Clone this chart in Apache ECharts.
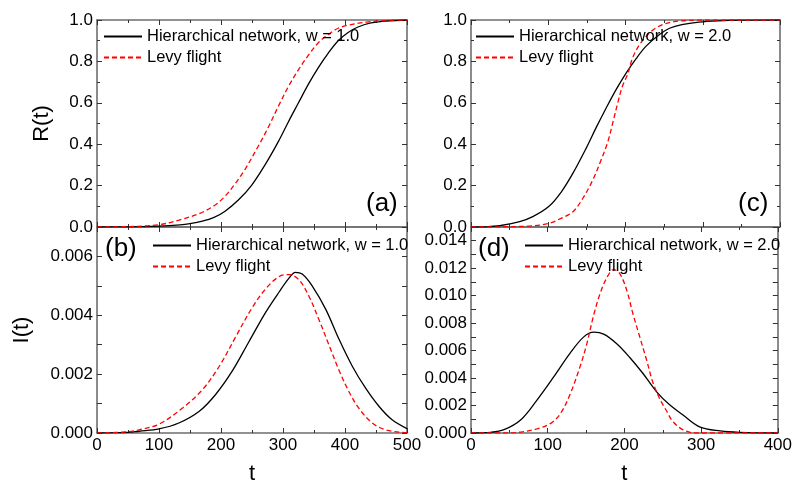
<!DOCTYPE html>
<html>
<head>
<meta charset="utf-8">
<script src="https://cdn.jsdelivr.net/npm/echarts@6/dist/echarts.min.js"></script>
<style>
  html, body { margin: 0; padding: 0; background: #fff; }
  #chart { width: 795px; height: 486px; }
</style>
</head>
<body>
<div id="chart"></div>
<script>
// (a) R(t), w = 1.0
const tA_hier = [0, 50, 100, 134, 150, 170, 188, 206, 228, 249, 271, 292, 309, 325, 341, 357, 373, 389, 405, 420, 440, 467, 500]
const rA_hier = [0, 0.0005, 0.004, 0.01, 0.016, 0.028, 0.045, 0.075, 0.13, 0.2, 0.3, 0.41, 0.51, 0.6, 0.69, 0.77, 0.84, 0.9, 0.94, 0.965, 0.985, 0.995, 1.0]
const tA_levy = [0, 50, 100, 134, 166, 190, 206, 223, 239, 260, 276, 292, 309, 325, 341, 357, 373, 389, 405, 435, 470, 500]
const rA_levy = [0, 0.002, 0.011, 0.035, 0.066, 0.105, 0.147, 0.21, 0.28, 0.39, 0.48, 0.58, 0.68, 0.76, 0.83, 0.89, 0.93, 0.96, 0.975, 0.99, 0.998, 1.0]

// (b) I(t), w = 1.0
const tB_hier = [0, 50, 68, 100, 132, 165, 191, 218, 245, 272, 294, 310, 320, 331, 347, 369, 390, 412, 433, 455, 476, 500]
const iB_hier = [0, 0.00002, 0.00006, 0.00014, 0.00034, 0.00074, 0.0013, 0.0021, 0.0031, 0.0041, 0.0048, 0.00527, 0.00546, 0.0054, 0.005, 0.0042, 0.0032, 0.00226, 0.00153, 0.0009, 0.00045, 0.00015]
const tB_levy = [0, 50, 68, 100, 138, 170, 197, 224, 250, 272, 294, 310, 326, 342, 358, 374, 390, 406, 422, 444, 465, 492, 500]
const iB_levy = [0, 0.00004, 0.00011, 0.0003, 0.00085, 0.00147, 0.00226, 0.00328, 0.00425, 0.0049, 0.00532, 0.00538, 0.0052, 0.00464, 0.00385, 0.003, 0.00215, 0.00142, 0.00085, 0.00034, 0.00011, 0.00002, 0.00001]

// (c) R(t), w = 2.0
const tC_hier = [0, 20, 37, 63, 80, 101, 117, 132, 149, 162, 175, 188, 201, 214, 227, 244, 257, 273, 295, 320, 350, 400]
const rC_hier = [0, 0.001, 0.006, 0.026, 0.05, 0.1, 0.17, 0.26, 0.38, 0.48, 0.575, 0.665, 0.745, 0.815, 0.875, 0.93, 0.96, 0.978, 0.99, 0.996, 0.999, 1.0]
const tC_levy = [0, 40, 80, 101, 115, 132, 145, 158, 168, 177, 184, 190, 196, 203, 209, 218, 229, 240, 253, 270, 300, 400]
const rC_levy = [0, 0.001, 0.006, 0.018, 0.039, 0.074, 0.14, 0.23, 0.32, 0.41, 0.51, 0.6, 0.68, 0.74, 0.815, 0.88, 0.93, 0.963, 0.984, 0.995, 1.0, 1.0]

// (d) I(t), w = 2.0
const tD_hier = [0, 26, 43, 65, 86, 108, 129, 147, 160, 173, 190, 207, 224, 242, 259, 276, 298, 325, 350, 400]
const iD_hier = [0, 0.00005, 0.00024, 0.00097, 0.0024, 0.0041, 0.0058, 0.007, 0.00734, 0.0072, 0.0065, 0.0055, 0.00435, 0.003, 0.00205, 0.00133, 0.00045, 0.00015, 0.00005, 0]
const tD_levy = [0, 43, 65, 86, 104, 117, 129, 142, 151, 160, 168, 177, 186, 194, 203, 211, 220, 229, 237, 246, 255, 263, 276, 293, 400]
const iD_levy = [0, 0, 0.00007, 0.0003, 0.0007, 0.00145, 0.0028, 0.0048, 0.0065, 0.0086, 0.0101, 0.0113, 0.0119, 0.0116, 0.0104, 0.0087, 0.007, 0.0053, 0.0037, 0.0025, 0.0016, 0.00085, 0.00025, 0, 0]

const NAME_W1 = 'Hierarchical network, w = 1.0'
const NAME_W2 = 'Hierarchical network, w = 2.0'
const NAME_LEVY = 'Levy flight'

const FONT = 'Liberation Sans, Arial, sans-serif'
const LABEL_SIZE = 17

const pairs = (ts, vs) => ts.map((t, i) => [t, vs[i]])

const chart = echarts.init(document.getElementById('chart'))

const grids = [
  { left: 97, top: 20, width: 310, height: 207 },
  { left: 97, top: 227, width: 310, height: 206 },
  { left: 471, top: 20, width: 309, height: 207 },
  { left: 471, top: 227, width: 309, height: 206 },
]

const axisLine = { show: true, onZero: false, lineStyle: { color: '#6e6e6e', width: 1.6 } }
const tick = (len) => ({ show: true, inside: true, length: len, lineStyle: { color: '#333', width: 1 } })

// x 轴:底部 + 顶部镜像
function xAxisFor(gridIndex, max, withLabel, position) {
  return {
    type: 'value', gridIndex, position, min: 0, max, interval: 100,
    axisLine, axisTick: tick(5),
    minorTick: { show: true, splitNumber: 2, length: 3, lineStyle: { color: '#333' } },
    splitLine: { show: false }, minorSplitLine: { show: false },
    axisLabel: { show: withLabel, margin: 4, fontSize: LABEL_SIZE, color: '#000', fontFamily: FONT },
    name: withLabel ? 't' : '', nameLocation: 'middle', nameGap: 30,
    nameTextStyle: { fontSize: 22, color: '#000', fontFamily: FONT },
  }
}

// y 轴:R(t) 用 0.2 步长,I(t) 用 0.001 步长只标偶数
function yAxisFor(gridIndex, kind, max, withLabel, position, name, nameGap) {
  const isR = kind === 'R'
  return {
    type: 'value', gridIndex, position, min: 0, max, interval: isR ? 0.2 : 0.001,
    axisLine, axisTick: tick(5),
    minorTick: { show: isR, splitNumber: 2, length: 3, lineStyle: { color: '#333' } },
    splitLine: { show: false }, minorSplitLine: { show: false },
    axisLabel: {
      show: withLabel, margin: 4, fontSize: LABEL_SIZE, color: '#000', fontFamily: FONT,
      showMaxLabel: isR,
      formatter: (v) => {
        if (isR) return v.toFixed(1)
        return Math.round(v * 1000) % 2 === 0 ? v.toFixed(3) : ''
      },
    },
    name: withLabel ? name : '', nameLocation: 'middle', nameGap, nameRotate: 90,
    nameTextStyle: { fontSize: 22, color: '#000', fontFamily: FONT },
  }
}

const xAxes = [
  xAxisFor(0, 500, false, 'bottom'),
  xAxisFor(1, 500, true, 'bottom'),
  xAxisFor(2, 400, false, 'bottom'),
  xAxisFor(3, 400, true, 'bottom'),
  xAxisFor(0, 500, false, 'top'),
  xAxisFor(1, 500, false, 'top'),
  xAxisFor(2, 400, false, 'top'),
  xAxisFor(3, 400, false, 'top'),
]

const yAxes = [
  yAxisFor(0, 'R', 1, true, 'left', 'R(t)', 44),
  yAxisFor(1, 'I', 0.007, true, 'left', 'I(t)', 64),
  yAxisFor(2, 'R', 1, true, 'left', '', 44),
  yAxisFor(3, 'I', 0.015, true, 'left', '', 64),
  yAxisFor(0, 'R', 1, false, 'right', '', 0),
  yAxisFor(1, 'I', 0.007, false, 'right', '', 0),
  yAxisFor(2, 'R', 1, false, 'right', '', 0),
  yAxisFor(3, 'I', 0.015, false, 'right', '', 0),
]

const solid = { color: '#000', width: 1.3, type: 'solid' }
const dashed = { color: '#ff0000', width: 1.3, type: [5, 3] }

function line(name, idx, data, style) {
  return {
    type: 'line', name, xAxisIndex: idx, yAxisIndex: idx, data,
    symbol: 'none', smooth: 0.35,
    lineStyle: style, itemStyle: { color: style.color },
    animation: false,
  }
}

const series = [
  line(NAME_W1, 0, pairs(tA_hier, rA_hier), solid),
  line(NAME_LEVY, 0, pairs(tA_levy, rA_levy), dashed),
  line(NAME_W1, 1, pairs(tB_hier, iB_hier), solid),
  line(NAME_LEVY, 1, pairs(tB_levy, iB_levy), dashed),
  line(NAME_W2, 2, pairs(tC_hier, rC_hier), solid),
  line(NAME_LEVY, 2, pairs(tC_levy, rC_levy), dashed),
  line(NAME_W2, 3, pairs(tD_hier, iD_hier), solid),
  line(NAME_LEVY, 3, pairs(tD_levy, iD_levy), dashed),
]

// 图例只画线段,不画圆点
function legendAt(left, top, hierName) {
  return {
    left, top, orient: 'vertical', padding: 0, itemGap: 4,
    itemWidth: 38, itemHeight: 14, selectedMode: false,
    itemStyle: { opacity: 0 },
    data: [hierName, NAME_LEVY],
    textStyle: { fontSize: 16.5, color: '#000', fontFamily: FONT, padding: [0, 0, 0, 0] },
  }
}

function panelLabel(text, left, top) {
  return {
    type: 'text', left, top,
    style: { text, fontSize: 26, fill: '#000', fontFamily: FONT },
  }
}

chart.setOption({
  backgroundColor: '#fff',
  animation: false,
  grid: grids,
  xAxis: xAxes,
  yAxis: yAxes,
  legend: [
    legendAt(103, 28, NAME_W1),
    legendAt(152, 237, NAME_W1),
    legendAt(475, 28, NAME_W2),
    legendAt(524, 237, NAME_W2),
  ],
  graphic: [
    panelLabel('(a)', 366, 191),
    panelLabel('(b)', 105, 236),
    panelLabel('(c)', 738, 191),
    panelLabel('(d)', 478, 236),
  ],
  series,
})
</script>
</body>
</html>
